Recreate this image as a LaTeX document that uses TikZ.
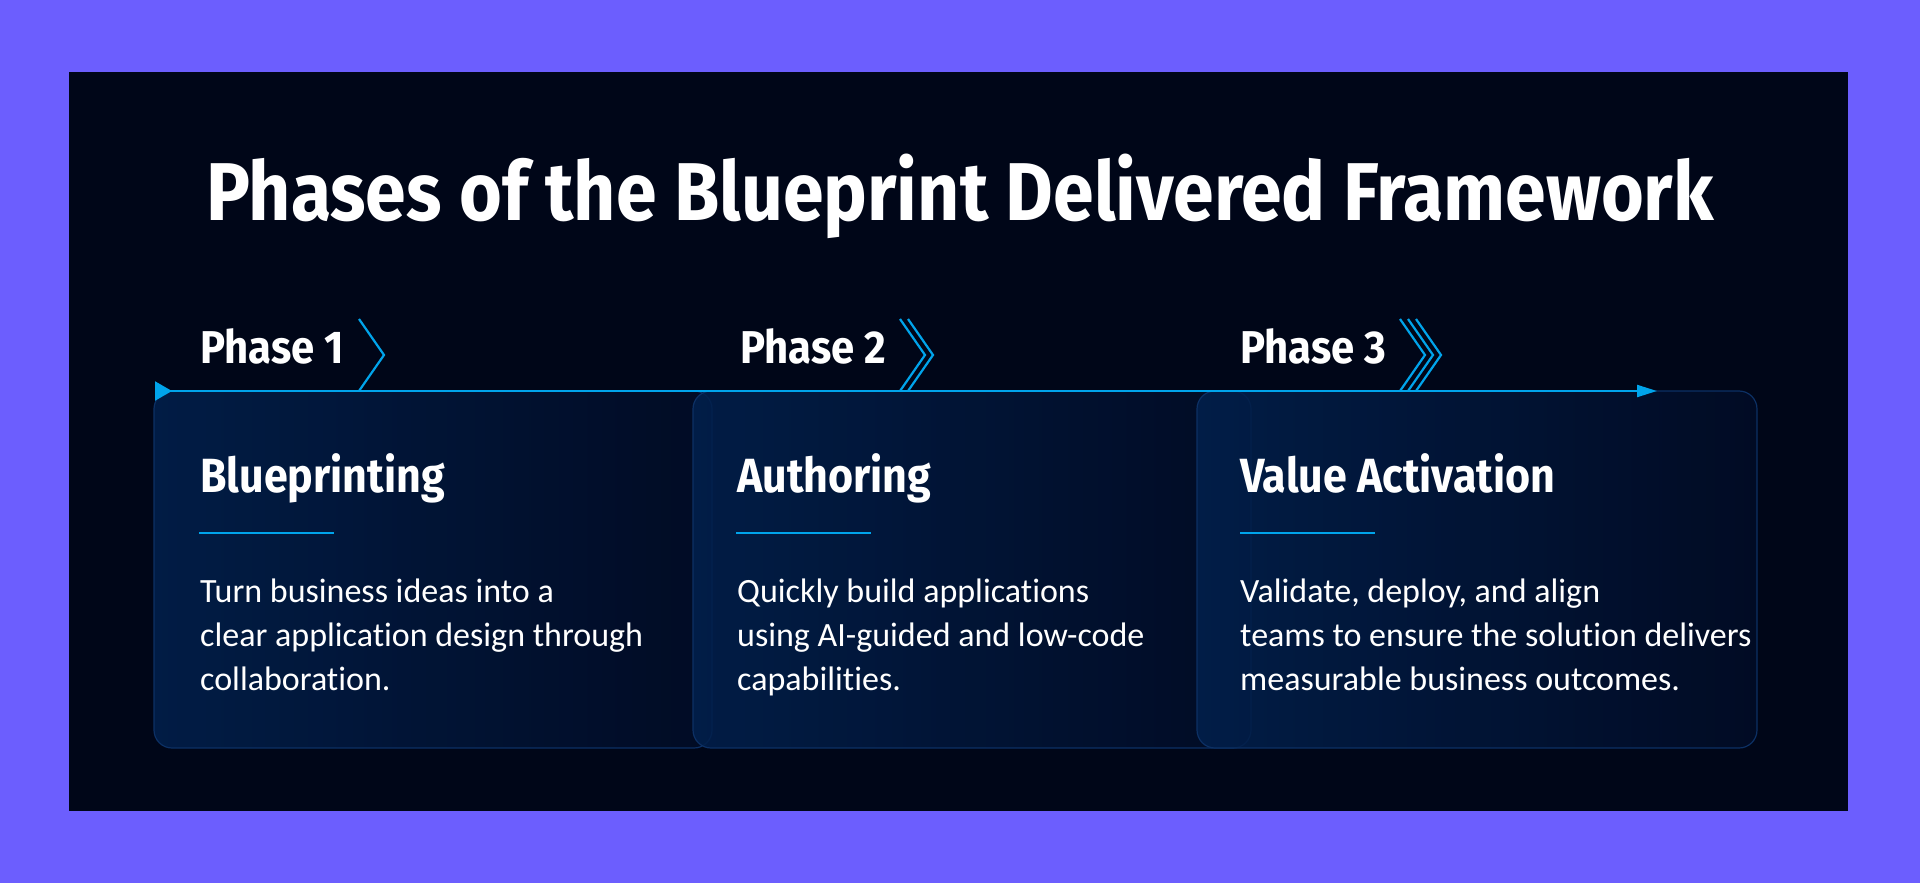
\documentclass[tikz,border=0pt]{standalone}
\usepackage{fontspec}
\usetikzlibrary{arrows.meta}
\newfontfamily\titlefont[FakeStretch=0.895]{Fira Sans}
\newfontfamily\hdfont[FakeStretch=0.91]{Fira Sans}
\newfontfamily\headfont[FakeStretch=0.895]{Fira Sans}
\newfontfamily\bodyfont[Ligatures=NoCommon]{Carlito}
\definecolor{outerbg}{RGB}{108,94,254}
\definecolor{panelbg}{RGB}{0,6,24}
\definecolor{cyanline}{RGB}{0,164,235}
\definecolor{cardL}{RGB}{2,32,76}
\definecolor{cardR}{RGB}{2,12,38}
\definecolor{cardedge}{RGB}{12,48,100}
\tikzset{
  card/.style={left color=cardL, right color=cardR, draw=cardedge, line width=1.2pt, rounded corners=18pt, fill opacity=0.88},
  titletxt/.style={anchor=base, inner sep=0pt, text=white, font=\titlefont\bfseries\fontsize{82}{90}\selectfont},
  phasetxt/.style={anchor=base west, inner sep=0pt, text=white, font=\hdfont\bfseries\fontsize{46}{52}\selectfont},
  headtxt/.style={anchor=base west, inner sep=0pt, text=white, font=\headfont\bfseries\fontsize{48}{52}\selectfont},
  bodytxt/.style={anchor=base west, inner sep=0pt, text=white, font=\bodyfont\fontsize{34}{40}\selectfont},
  chev/.style={draw=cyanline, line width=2.2pt},
  uline/.style={draw=cyanline, line width=1.6pt},
  mainline/.style={draw=cyanline, line width=2.2pt}
}
\begin{document}
\begin{tikzpicture}[x=1pt,y=-1pt]
\useasboundingbox (0,0) rectangle (1920,883);
\fill[outerbg] (0,0) rectangle (1920,883);
\fill[panelbg] (69,72) rectangle (1848,811);
% cards
\shade[card] (154,391) rectangle (712,748);
\shade[card] (693,391) rectangle (1251,748);
\shade[card] (1197,391) rectangle (1757,748);
% title
\node[titletxt] (title) at (960,220) {Phases of the Blueprint Delivered Framework};
% timeline
\coordinate (ls) at (155,391);
\coordinate (le) at (1657,391);
\draw[mainline, {Triangle[reversed,length=17pt,width=19pt]}-{Triangle[length=20pt,width=12pt]}] (ls) -- (le);
% phase labels
\node[phasetxt] (p1) at (200,363) {Phase 1};
\node[phasetxt] (p2) at (740,363) {Phase 2};
\node[phasetxt] (p3) at (1240,363) {Phase 3};
% chevrons
\draw[chev] (359,319) -- (384,355) -- (359,391);
\foreach \x in {900,908} {\draw[chev] (\x,319) -- (\x+25,355) -- (\x,391);}
\foreach \x in {1400,1408,1416} {\draw[chev] (\x,319) -- (\x+25,355) -- (\x,391);}
% headings
\node[headtxt] (h1) at (200,492) {Blueprinting};
\node[headtxt] (h2) at (737,492) {Authoring};
\node[headtxt] (h3) at (1240,492) {Value Activation};
\draw[uline] (199,533) -- (334,533);
\draw[uline] (736,533) -- (871,533);
\draw[uline] (1240,533) -- (1375,533);
% bodies
\node[bodytxt] (b1a) at (200,602) {Turn business ideas into a};
\node[bodytxt] (b1b) at (200,646) {clear application design through};
\node[bodytxt] (b1c) at (200,690) {collaboration.};
\node[bodytxt] (b2a) at (737,602) {Quickly build applications};
\node[bodytxt] (b2b) at (737,646) {using AI-guided and low-code};
\node[bodytxt] (b2c) at (737,690) {capabilities.};
\node[bodytxt] (b3a) at (1240,602) {Validate, deploy, and align};
\node[bodytxt] (b3b) at (1240,646) {teams to ensure the solution delivers};
\node[bodytxt] (b3c) at (1240,690) {measurable business outcomes.};
\end{tikzpicture}
\end{document}
